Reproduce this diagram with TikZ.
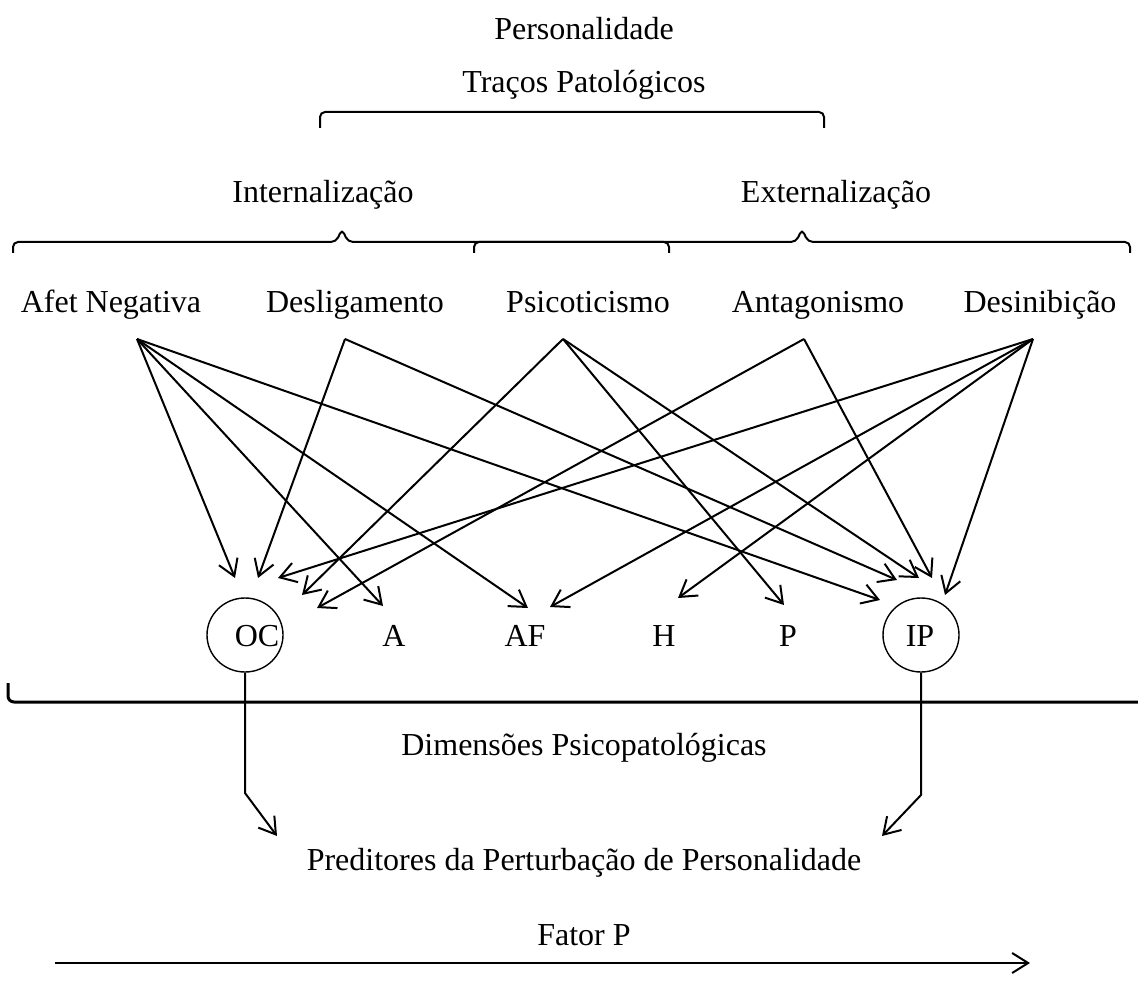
\documentclass[tikz,border=0pt]{standalone}
\usepackage{fontspec}
\setmainfont{Liberation Serif}
\usetikzlibrary{arrows.meta,shapes.geometric}
\begin{document}
\begin{tikzpicture}[x=0.5pt,y=-0.5pt,
  lbl/.style={font=\fontsize{16}{19}\selectfont, inner sep=0pt, anchor=base},
  conn/.style={line width=1pt, -{Straight Barb[length=8pt,width=10pt]}},
  brk/.style={line width=1pt, rounded corners=2.5pt},
  ring/.style={draw, ellipse, line width=0.7pt, minimum width=38pt, minimum height=37pt, inner sep=0pt}]
\useasboundingbox (0,0) rectangle (1138,999);
% texts
\node[lbl] (pers) at (584,40) {Personalidade};
\node[lbl] (tp) at (584,93) {Traços Patológicos};
\node[lbl] (int) at (323,203) {Internalização};
\node[lbl] (ext) at (836,203) {Externalização};
\node[lbl] (an) at (111,313) {Afet Negativa};
\node[lbl] (de) at (355,313) {Desligamento};
\node[lbl] (ps) at (588,313) {Psicoticismo};
\node[lbl] (ag) at (818,313) {Antagonismo};
\node[lbl] (di) at (1040,313) {Desinibição};
\node[ring] (ocring) at (245,635) {};
\node[ring] (ipring) at (921,635) {};
\node[lbl] (oc) at (257,646) {OC};
\node[lbl] (a) at (394,646) {A};
\node[lbl] (af) at (525,646) {AF};
\node[lbl] (h) at (664,646) {H};
\node[lbl] (p) at (788,646) {P};
\node[lbl] (ip) at (920,646) {IP};
\node[lbl] (dim) at (584,755) {Dimensões Psicopatológicas};
\node[lbl] (pred) at (584,870) {Preditores da Perturbação de Personalidade};
\node[lbl] (fp) at (584,945) {Fator P};
% braces
\draw[brk] (320,128) -- (320,112) -- (824,112) -- (824,128);
\draw[brk] (13,253) -- (13,242) -- (336,242) -- (342,229) -- (348,242) -- (669,242) -- (669,253);
\draw[brk] (474,253) -- (474,242) -- (796,242) -- (802,229) -- (808,242) -- (1130,242) -- (1130,253);
\draw[line width=1.5pt, rounded corners=3pt] (8,683) -- (8,702) -- (1140,702);
% sources
\coordinate (anS) at (137,339);
\coordinate (deS) at (345,339);
\coordinate (psS) at (563,339);
\coordinate (agS) at (804,339);
\coordinate (diS) at (1033,339);
% targets
\coordinate (oc1) at (235,578);
\coordinate (oc2) at (258,578);
\coordinate (oc3) at (278,578);
\coordinate (oc4) at (302,595);
\coordinate (oc5) at (317,608);
\coordinate (aT) at (383,606);
\coordinate (af1) at (528,608);
\coordinate (af2) at (550,607);
\coordinate (hT) at (678,598);
\coordinate (pT) at (784,605);
\coordinate (ip1) at (880,600);
\coordinate (ip2) at (897,580);
\coordinate (ip3) at (919,578);
\coordinate (ip4) at (932,578);
\coordinate (ip5) at (945,595);
% connectors
\draw[conn] (anS) -- (oc1);
\draw[conn] (anS) -- (aT);
\draw[conn] (anS) -- (af1);
\draw[conn] (anS) -- (ip1);
\draw[conn] (deS) -- (oc2);
\draw[conn] (deS) -- (ip2);
\draw[conn] (psS) -- (oc4);
\draw[conn] (psS) -- (pT);
\draw[conn] (psS) -- (ip3);
\draw[conn] (agS) -- (oc5);
\draw[conn] (agS) -- (ip4);
\draw[conn] (diS) -- (oc3);
\draw[conn] (diS) -- (af2);
\draw[conn] (diS) -- (hT);
\draw[conn] (diS) -- (ip5);
% to predictors
\coordinate (ocBend) at (245,793);
\coordinate (predL) at (277,836);
\coordinate (ipBend) at (921,795);
\coordinate (predR) at (882,836);
\draw[conn] (ocring.south) -- (ocBend) -- (predL);
\draw[conn] (ipring.south) -- (ipBend) -- (predR);
% factor P axis
\coordinate (fpL) at (55,963);
\coordinate (fpR) at (1030,963);
\draw[conn] (fpL) -- (fpR);
\end{tikzpicture}
\end{document}
